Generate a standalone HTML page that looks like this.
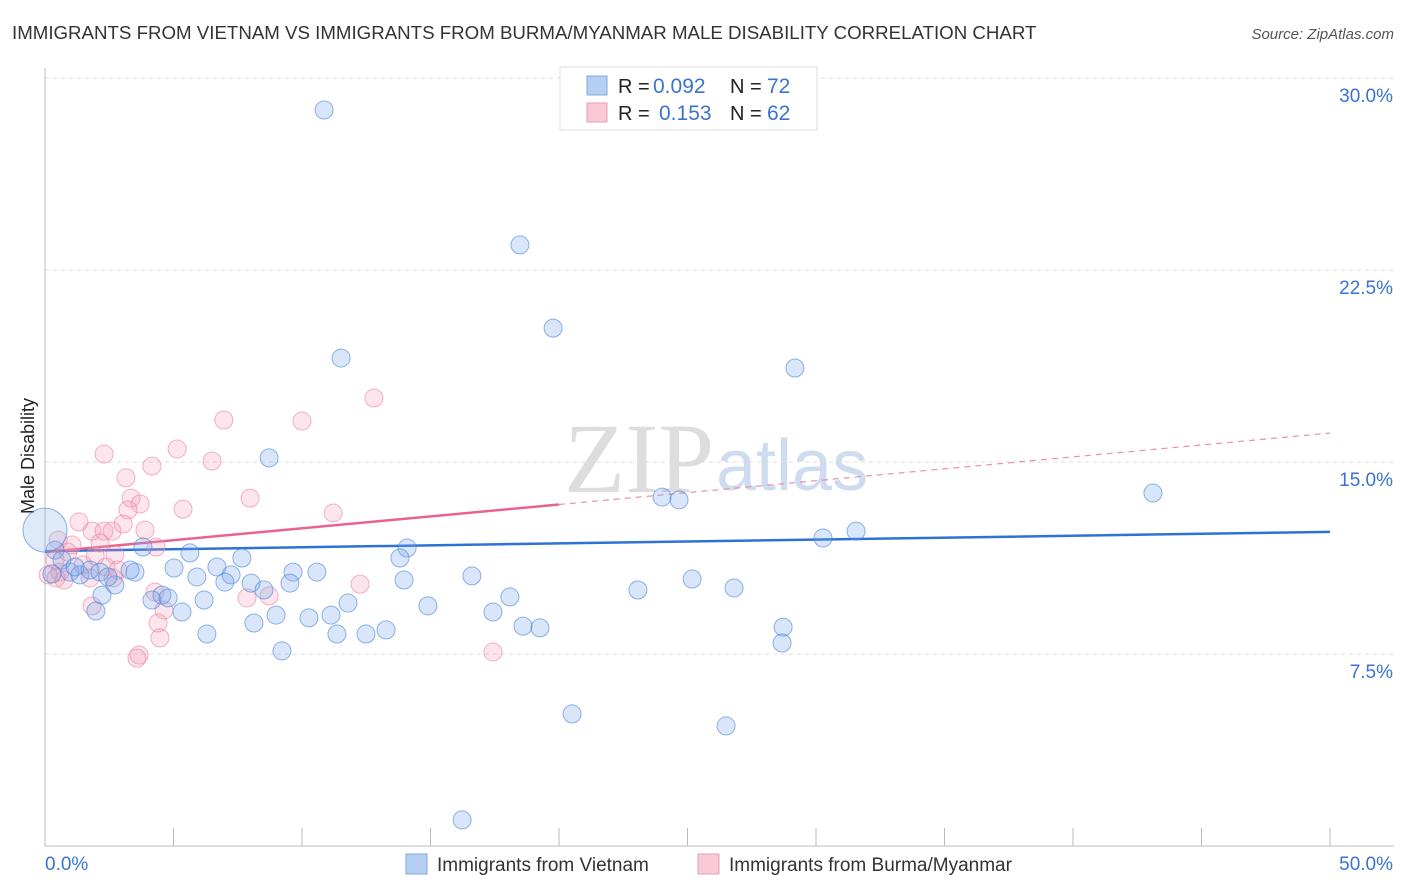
<!DOCTYPE html>
<html><head><meta charset="utf-8"><style>
body{margin:0;background:#fff;font-family:"Liberation Sans",sans-serif}
#wrap{position:relative;width:1406px;height:892px;overflow:hidden}
</style></head><body>
<div id="wrap">
<svg id="svg" width="1406" height="892" xmlns="http://www.w3.org/2000/svg">
<text x="12" y="39" font-size="18.7" fill="#333">IMMIGRANTS FROM VIETNAM VS IMMIGRANTS FROM BURMA/MYANMAR MALE DISABILITY CORRELATION CHART</text>
<text x="1394" y="39" font-size="15" fill="#555" font-style="italic" text-anchor="end">Source: ZipAtlas.com</text>
<text x="714" y="492" font-size="100" fill="#ddd" text-anchor="end" font-family="Liberation Serif,serif">ZIP</text>
<text x="716" y="490" font-size="72" fill="#cfdcef">atlas</text>
<text transform="translate(34,456) rotate(-90)" font-size="18" fill="#222" text-anchor="middle">Male Disability</text>
<g id="grid"></g><g id="axes"></g><g id="lines"></g><g id="pts"></g>
<g>
<rect x="560" y="67" width="257" height="63" fill="#fff" stroke="#ddd"/>
<rect x="587" y="76" width="20" height="19" fill="#b5cff3" stroke="#7fa8e2"/>
<rect x="587" y="103" width="20" height="19" fill="#f9c9d8" stroke="#ec9ab3"/>
<text x="618" y="93" font-size="20" fill="#222">R =</text>
<text x="653" y="93" font-size="21" fill="#3a74d0">0.092</text>
<text x="730" y="93" font-size="20" fill="#222">N =</text>
<text x="767" y="93" font-size="21" fill="#3a74d0">72</text>
<text x="618" y="120" font-size="20" fill="#222">R =</text>
<text x="659" y="120" font-size="21" fill="#3a74d0">0.153</text>
<text x="730" y="120" font-size="20" fill="#222">N =</text>
<text x="767" y="120" font-size="21" fill="#3a74d0">62</text>
</g>
<g>
<rect x="406" y="854" width="21" height="20" fill="#b5cff3" stroke="#7fa8e2"/>
<text x="437" y="871" font-size="19" fill="#333">Immigrants from Vietnam</text>
<rect x="698" y="854" width="21" height="20" fill="#f9c9d8" stroke="#ec9ab3"/>
<text x="729" y="871" font-size="19" fill="#333">Immigrants from Burma/Myanmar</text>
</g>
</svg>
</div>
<script>
const blueX=[10.86,18.48,19.77,11.52,29.18,8.72,43.11,24.01,24.67,31.56,30.27,14.09,13.81,5.64,3.81,7.66,6.69,5.02,9.65,10.58,3.50,3.31,7.24,5.91,7.00,8.02,9.53,16.61,13.97,25.18,26.81,23.07,2.72,8.52,18.09,4.55,4.16,4.79,2.22,6.19,11.79,14.90,5.33,17.43,1.98,8.99,10.27,11.13,8.13,13.27,12.49,11.36,6.30,18.60,19.26,28.72,28.68,9.22,20.51,26.50,16.23,0.39,0.66,0.97,1.36,1.75,1.17,0.27,2.14,2.45,0.0];
const blueY=[28.75,23.48,20.23,19.06,18.67,15.16,13.79,13.63,13.52,12.30,12.03,11.64,11.25,11.45,11.68,11.25,10.90,10.86,10.70,10.70,10.70,10.78,10.59,10.51,10.31,10.27,10.27,10.55,10.39,10.43,10.08,10.00,10.20,10.00,9.73,9.80,9.61,9.69,9.80,9.61,9.49,9.38,9.14,9.14,9.18,9.02,8.91,9.02,8.71,8.44,8.28,8.28,8.28,8.59,8.52,8.55,7.93,7.62,5.16,4.69,1.02,11.56,11.17,10.70,10.59,10.78,10.90,10.63,10.70,10.51,12.34];
const pinkX=[12.80,6.96,10.0,5.14,2.30,6.50,4.16,3.15,7.98,3.35,3.70,5.37,11.21,3.23,3.04,1.32,3.89,1.83,2.30,2.61,0.51,1.05,2.14,4.32,2.72,1.95,0.89,0.39,1.48,2.37,2.84,0.58,0.12,0.74,0.43,1.75,2.65,12.26,4.28,7.86,8.72,1.83,4.63,4.40,4.47,17.43,3.66,3.58];
const pinkY=[17.50,16.64,16.60,15.51,15.31,15.04,14.84,14.38,13.59,13.59,13.36,13.16,13.01,13.13,12.58,12.66,12.34,12.30,12.30,12.30,11.95,11.76,11.84,11.68,11.37,11.33,11.48,11.17,10.98,10.90,10.78,10.70,10.59,10.39,10.47,10.47,10.47,10.23,9.92,9.69,9.77,9.38,9.22,8.71,8.13,7.58,7.46,7.34];
const yTicks=[7.5,15,22.5,30];
const yTickLabels=["7.5%","15.0%","22.5%","30.0%"];
const blueTrend=[11.52,12.27];
const pinkTrend=[11.48,16.13];
const NS="http://www.w3.org/2000/svg";
const X0=45,X1=1330,Y0=846;
function sx(v){return X0+(X1-X0)*v/50;}
function sy(v){return Y0-v*25.6;}
function mk(t,a,p){const e=document.createElementNS(NS,t);for(const k in a)e.setAttribute(k,a[k]);p.appendChild(e);return e;}
const grid=document.getElementById('grid'),axes=document.getElementById('axes'),lines=document.getElementById('lines'),pts=document.getElementById('pts');
yTicks.forEach((t,i)=>{
 const l=mk('line',{x1:X0,x2:1394,y1:sy(t),y2:sy(t),stroke:'#ddd','stroke-dasharray':'4,4'},grid);
 
 
 const tx=mk('text',{x:1393,y:sy(t)+24,'font-size':19,fill:'#3a74d0','text-anchor':'end'},axes);
 tx.textContent=yTickLabels[i];
 
 
});
mk('line',{x1:X0,x2:X0,y1:68,y2:Y0,stroke:'#bbb'},axes);
mk('line',{x1:X0,x2:1394,y1:Y0,y2:Y0,stroke:'#bbb'},axes);
for(let i=0;i<=10;i++){const t=mk('line',{x1:sx(i*5),x2:sx(i*5),y1:828,y2:Y0,stroke:'#bbb'},axes);}
const xl0=mk('text',{x:45,y:870,'font-size':19,fill:'#3a74d0'},axes);xl0.textContent='0.0%';


const xl1=mk('text',{x:1393,y:870,'font-size':19,fill:'#3a74d0','text-anchor':'end'},axes);xl1.textContent='50.0%';


function dot(x,y,r,f,s,n){const c=mk('circle',{cx:sx(x),cy:sy(y),r:r,fill:f,stroke:s,'stroke-width':1},pts);

}
pinkX.forEach((x,i)=>dot(x,pinkY[i],9,'rgba(242,150,178,0.25)','rgba(232,130,162,0.6)','burma-point'));
blueX.forEach((x,i)=>dot(x,blueY[i],i==blueX.length-1?22:9,i==blueX.length-1?'rgba(150,185,235,0.3)':'rgba(120,165,232,0.28)','rgba(70,130,215,0.6)','vietnam-point'));
const bl=mk('line',{x1:sx(0),y1:sy(blueTrend[0]),x2:sx(50),y2:sy(blueTrend[1]),stroke:'#2f72d6','stroke-width':2.5},lines);


const pm=pinkTrend[0]+(pinkTrend[1]-pinkTrend[0])*20/50;
const pl=mk('line',{x1:sx(0),y1:sy(pinkTrend[0]),x2:sx(20),y2:sy(pm),stroke:'#e8648f','stroke-width':2.5},lines);


const pd=mk('line',{x1:sx(20),y1:sy(pm),x2:sx(50),y2:sy(pinkTrend[1]),stroke:'#eb8fab','stroke-width':1.2,'stroke-dasharray':'6,5'},lines);


</script>
</body></html>
